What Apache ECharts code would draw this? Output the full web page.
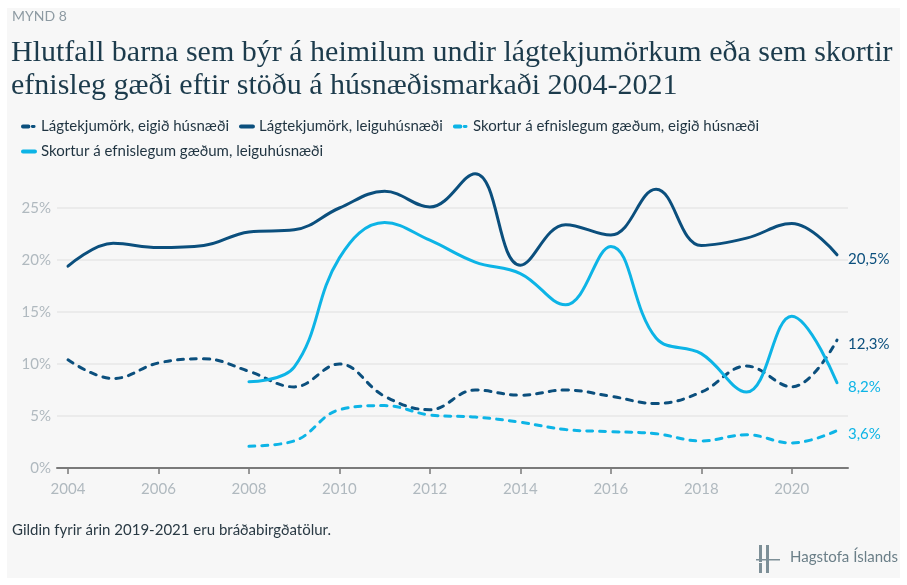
<!DOCTYPE html>
<html>
<head>
<meta charset="utf-8">
<script src="https://cdn.jsdelivr.net/npm/echarts@6/dist/echarts.min.js"></script>
<style>
  html, body { margin: 0; padding: 0; background: #fff; }
  #chart { width: 907px; height: 585px; }
</style>
</head>
<body>
<div id="chart"></div>
<script>
// ár
const years = [2004, 2005, 2006, 2007, 2008, 2009, 2010, 2011, 2012, 2013, 2014, 2015, 2016, 2017, 2018, 2019, 2020, 2021];
const yearsFrom2008 = years.slice(4);
const tickYears = [2004, 2006, 2008, 2010, 2012, 2014, 2016, 2018, 2020];

// gögn (%)
const lagEigid = [10.4, 8.6, 10.1, 10.5, 9.3, 7.8, 10.0, 6.9, 5.6, 7.5, 7.0, 7.5, 6.9, 6.2, 7.3, 9.8, 7.8, 12.3];
const lagLeigu = [19.4, 21.6, 21.2, 21.4, 22.7, 22.9, 25.0, 26.6, 25.1, 28.3, 19.5, 23.4, 22.4, 26.8, 21.4, 22.1, 23.5, 20.5];
const skortEigid = [2.1, 2.6, 5.6, 6.0, 5.1, 4.9, 4.4, 3.7, 3.5, 3.3, 2.6, 3.2, 2.4, 3.6];
const skortLeigu = [8.3, 9.7, 20.2, 23.6, 21.9, 19.8, 18.7, 15.7, 21.3, 12.5, 11.0, 7.3, 14.6, 8.2];

const names = [
    'Lágtekjumörk, eigið húsnæði',
    'Lágtekjumörk, leiguhúsnæði',
    'Skortur á efnislegum gæðum, eigið húsnæði',
    'Skortur á efnislegum gæðum, leiguhúsnæði'
];

const DARK = '#0b4f7d';
const LIGHT = '#0db4e6';

// legend táknin: strik + punktur eða heil lína
const ICON_DASH = 'path://M1,0h6a1,1 0 0 1 0,4h-6a1,1 0 0 1 0,-4z M11,0.5h2a1.5,1.5 0 0 1 0,3h-2a1.5,1.5 0 0 1 0,-3z M16,0h0.01v4h-0.01z';
const ICON_LINE = 'path://M2,0h12a2,2 0 0 1 0,4h-12a2,2 0 0 1 0,-4z M0,0h0.01v4h-0.01z M16,0h0.01v4h-0.01z';

const pairs = (xs, ys) => xs.map((x, i) => [x, ys[i]]);

const makeSeries = (name, data, color, dashed) => ({
    name: name,
    type: 'line',
    data: data,
    smooth: 0.4,
    symbol: 'none',
    lineStyle: {
        color: color,
        width: 3,
        type: dashed ? [6, 7] : 'solid',
        cap: 'round'
    },
    itemStyle: { color: color },
    endLabel: {
        show: true,
        distance: 11,
        offset: [0, 4],
        color: color,
        fontFamily: 'Lato',
        fontSize: 15,
        formatter: p => p.value[1].toFixed(1).replace('.', ',') + '%'
    },
    emphasis: { disabled: true }
});

const chart = echarts.init(document.getElementById('chart'));
const option = {
    backgroundColor: '#ffffff',
    animation: false,
    graphic: [
        { type: 'rect', z: -10, shape: { x: 7, y: 8, width: 893, height: 570 }, style: { fill: '#f7f7f7' } },
        { type: 'text', left: 12, top: 9, style: { text: 'MYND 8', fill: '#8d9aa2', font: '14px Lato' } },
        { type: 'text', left: 12, top: 523, style: { text: 'Gildin fyrir árin 2019-2021 eru bráðabirgðatölur.', fill: '#2a3a44', font: '15px Lato' } },
        { type: 'rect', shape: { x: 759, y: 545, width: 3, height: 17 }, style: { fill: '#7d8f97' } },
        { type: 'rect', shape: { x: 766, y: 545, width: 3, height: 28 }, style: { fill: '#7d8f97' } },
        { type: 'rect', shape: { x: 759, y: 563, width: 3, height: 10 }, style: { fill: '#7d8f97' } },
        { type: 'rect', shape: { x: 756, y: 559, width: 24, height: 1.5 }, style: { fill: '#7d8f97' } },
        { type: 'text', left: 790, top: 550, style: { text: 'Hagstofa Íslands', fill: '#6b7f88', font: '15px Lato' } }
    ],
    title: {
        text: 'Hlutfall barna sem býr á heimilum undir lágtekjumörkum eða sem skortir\nefnisleg gæði eftir stöðu á húsnæðismarkaði 2004-2021',
        left: 6,
        top: 32,
        textStyle: {
            fontFamily: 'Liberation Serif',
            fontSize: 30,
            fontWeight: 'normal',
            color: '#1c3b4c',
            lineHeight: 33
        }
    },
    legend: {
        left: 16,
        top: 114,
        width: 800,
        itemWidth: 16,
        itemHeight: 4,
        itemGap: 10,
        textStyle: {
            fontFamily: 'Lato',
            fontSize: 15,
            color: '#1f3340',
            lineHeight: 14,
            padding: [0, 0, 0, -1]
        },
        data: [
            { name: names[0], icon: ICON_DASH, itemStyle: { color: DARK } },
            { name: names[1], icon: ICON_LINE, itemStyle: { color: DARK } },
            { name: names[2], icon: ICON_DASH, itemStyle: { color: LIGHT } },
            { name: names[3], icon: ICON_LINE, itemStyle: { color: LIGHT } }
        ]
    },
    grid: {
        left: 57,
        right: 59,
        top: 156,
        bottom: 117,
        containLabel: false
    },
    xAxis: {
        type: 'value',
        min: 2004 - 11 / 45.24,
        max: 2021 + 11 / 45.24,
        splitLine: { show: false },
        axisLine: { show: true, lineStyle: { color: '#7a7a7a', width: 2 } },
        axisTick: {
            show: true,
            customValues: tickYears,
            length: 6,
            inside: false,
            lineStyle: { color: '#7a7a7a', width: 1.5 }
        },
        axisLabel: {
            customValues: tickYears,
            margin: 14,
            color: '#b0b9bf',
            fontFamily: 'Lato',
            fontSize: 15,
            formatter: v => String(v)
        }
    },
    yAxis: {
        type: 'value',
        min: 0,
        max: 30,
        interval: 5,
        axisLine: { show: false },
        axisTick: { show: false },
        axisLabel: {
            margin: 6,
            showMaxLabel: false,
            color: '#b0b9bf',
            fontFamily: 'Lato',
            fontSize: 15,
            formatter: v => v + '%'
        },
        splitLine: {
            show: true,
            showMinLine: false,
            showMaxLine: false,
            lineStyle: { color: '#ebebeb', width: 2 }
        }
    },
    series: [
        makeSeries(names[0], pairs(years, lagEigid), DARK, true),
        makeSeries(names[1], pairs(years, lagLeigu), DARK, false),
        makeSeries(names[2], pairs(yearsFrom2008, skortEigid), LIGHT, true),
        makeSeries(names[3], pairs(yearsFrom2008, skortLeigu), LIGHT, false)
    ]
};
chart.setOption(option);
</script>
</body>
</html>
